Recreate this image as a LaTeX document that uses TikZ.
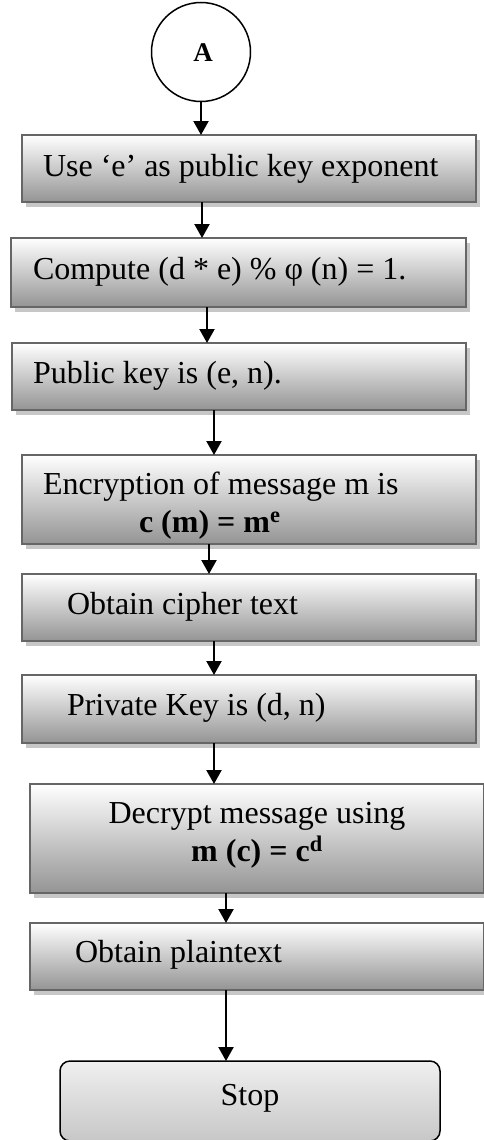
\documentclass[tikz,border=0pt]{standalone}
\usepackage{fontspec}
\setmainfont{Liberation Serif}
\usetikzlibrary{arrows.meta,shadows}
\begin{document}
\begin{tikzpicture}[x=1pt,y=-1pt,
  box/.style={draw=black!60, line width=2.5pt, top color=white, bottom color=black!42,
    inner sep=0pt, outer sep=0pt, minimum width=454pt,
    drop shadow={shadow xshift=4pt, shadow yshift=-5pt, fill=black!22, opacity=1}},
  stopbox/.style={draw=black, line width=1.5pt, rounded corners=10pt, top color=black!6,
    bottom color=black!22, inner sep=0pt, outer sep=0pt, minimum width=380pt, minimum height=80pt},
  conn/.style={draw=black, line width=1.5pt, fill=white, inner sep=0pt, outer sep=0pt, circle, minimum size=99pt},
  txt/.style={inner sep=0pt, outer sep=0pt, anchor=base west, font=\fontsize{32}{38}\selectfont},
  ctxt/.style={inner sep=0pt, outer sep=0pt, anchor=base, font=\fontsize{32}{38}\selectfont},
  arr/.style={line width=2.2pt, -{Triangle[width=15pt,length=14pt]}}]
\useasboundingbox (0,0) rectangle (484,1140);
% connector
\node[conn] (A) at (201,52) {};
\node[inner sep=0pt, anchor=base, font=\fontsize{27}{30}\selectfont\bfseries] (Alab) at (203,62) {A};
% boxes
\node[box, minimum height=67pt] (b1) at (249,168.5) {};
\node[box, minimum width=455pt, minimum height=69pt] (b2) at (238.5,272.5) {};
\node[box, minimum height=67pt] (b3) at (239,376.5) {};
\node[box, minimum height=89pt] (b4) at (249,499.5) {};
\node[box, minimum height=67pt] (b5) at (249,607.5) {};
\node[box, minimum height=68pt] (b6) at (249,709) {};
\node[box, minimum height=109pt] (b7) at (257,838.5) {};
\node[box, minimum height=67pt] (b8) at (257,956.5) {};
\node[stopbox] (stop) at (250,1101) {};
% texts
\node[txt] (t1) at (43,176) {Use ‘e’ as public key exponent};
\node[txt] (t2) at (33,279) {Compute (d * e) \% φ (n) = 1.};
\node[txt] (t3) at (33,383) {Public key is (e, n).};
\node[txt] (t4a) at (43,494) {Encryption of message m is};
\node[txt] (t4b) at (139,532) {\bfseries c (m) = m\textsuperscript{e}};
\node[txt] (t5) at (67,614) {Obtain cipher text};
\node[txt] (t6) at (67,715) {Private Key is (d, n)};
\node[ctxt] (t7a) at (257,823) {Decrypt message using};
\node[ctxt] (t7b) at (257,861) {\bfseries m (c) = c\textsuperscript{d}};
\node[txt] (t8) at (75,962) {Obtain plaintext};
\node[ctxt] (t9) at (250,1105) {Stop};
% arrow columns
\coordinate (x2) at (202,0);
\coordinate (x3) at (207,0);
\coordinate (x4) at (214,0);
\coordinate (x5) at (209,0);
\coordinate (x6) at (214,0);
\coordinate (x7) at (214,0);
\coordinate (x8) at (226,0);
% connectors
\draw[arr] (A.south) -- (b1.north -| A.south);
\draw[arr] (b1.south -| x2) -- (b2.north -| x2);
\draw[arr] (b2.south -| x3) -- (b3.north -| x3);
\draw[arr] (b3.south -| x4) -- (b4.north -| x4);
\draw[arr] (b4.south -| x5) -- (b5.north -| x5);
\draw[arr] (b5.south -| x6) -- (b6.north -| x6);
\draw[arr] (b6.south -| x7) -- (b7.north -| x7);
\draw[arr] (b7.south -| x8) -- (b8.north -| x8);
\draw[arr] (b8.south -| x8) -- (stop.north -| x8);
\end{tikzpicture}
\end{document}
